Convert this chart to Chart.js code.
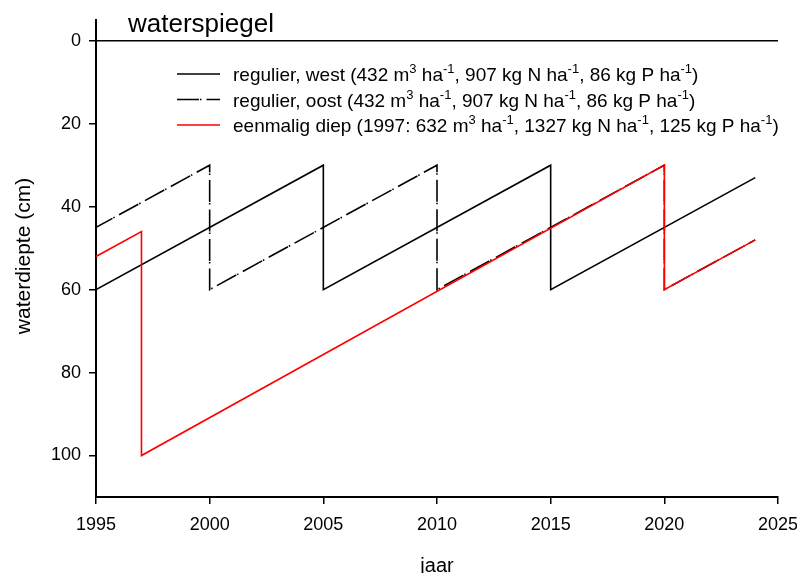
<!DOCTYPE html>
<html>
<head>
<style>
  body { margin: 0; background: #fff; }
</style>
</head>
<body>
<script src="https://cdn.jsdelivr.net/npm/chart.js"></script>
<canvas id="myChart" width="797" height="573"></canvas>

<script>
// data (jaar, waterdiepte in cm)
const westX = [1995, 1995, 2005, 2005, 2015, 2015, 2024];
const westY = [30, 60, 30, 60, 30, 60, 33];

const oostX = [1995, 1995, 2000, 2000, 2010, 2010, 2020, 2020, 2024];
const oostY = [30, 45, 30, 60, 30, 60, 30, 60, 48];

const diepX = [1995, 1997, 1997, 2020, 2020, 2024];
const diepY = [52, 46, 100, 30, 60, 48];

const nulX = [1995, 2025];
const nulY = [0, 0];

const yTicks = [0, 20, 40, 60, 80, 100];

const labels = [
  'regulier, west (432 m^3 ha^-1, 907 kg N ha^-1, 86 kg P ha^-1)',
  'regulier, oost (432 m^3 ha^-1, 907 kg N ha^-1, 86 kg P ha^-1)',
  'eenmalig diep (1997: 632 m^3 ha^-1, 1327 kg N ha^-1, 125 kg P ha^-1)'
];

const FONT = 'Arial, "Liberation Sans", sans-serif';
const dashOost = [22, 1, 1.5, 5];

function pts(xs, ys) {
  return xs.map((x, i) => ({x: x, y: ys[i]}));
}

const data = {
  datasets: [{
    label: labels[2],
    data: pts(diepX, diepY),
    borderColor: '#ff0000',
    borderWidth: 1.6,
    order: 0
  }, {
    label: labels[0],
    data: pts(westX, westY),
    borderColor: '#000',
    borderWidth: 1.6,
    order: 1
  }, {
    label: labels[1],
    data: pts(oostX, oostY),
    borderColor: '#000',
    borderWidth: 1.6,
    borderDash: dashOost,
    order: 2
  }, {
    label: 'nul',
    data: pts(nulX, nulY),
    borderColor: '#000',
    borderWidth: 1.6,
    order: 3
  }]
};

// one row of legend text, with ^ marking superscripts
function drawRich(ctx, text, x, y) {
  const parts = text.split(/\^([-\d]+)/);
  for (let i = 0; i < parts.length; i++) {
    if (i % 2 === 0) {
      ctx.font = '19px ' + FONT;
      ctx.fillText(parts[i], x, y);
    } else {
      ctx.font = '13px ' + FONT;
      ctx.fillText(parts[i], x, y - 8);
    }
    x += ctx.measureText(parts[i]).width;
  }
}

const textPlugin = {
  id: 'texts',
  afterDraw(chart) {
    const ctx = chart.ctx;
    ctx.save();
    ctx.fillStyle = '#000';
    ctx.textBaseline = 'alphabetic';
    ctx.textAlign = 'left';

    // title
    ctx.font = '26px ' + FONT;
    ctx.fillText('waterspiegel', 128, 32);

    // axis titles
    ctx.font = '20px ' + FONT;
    ctx.textAlign = 'center';
    ctx.fillText('jaar', 437, 572);
    ctx.font = '21px ' + FONT;
    ctx.translate(30, 256);
    ctx.rotate(-Math.PI / 2);
    ctx.fillText('waterdiepte (cm)', 0, 0);
    ctx.setTransform(1, 0, 0, 1, 0, 0);

    // legend
    ctx.textAlign = 'left';
    const rows = [
      {label: labels[0], color: '#000', dash: []},
      {label: labels[1], color: '#000', dash: dashOost},
      {label: labels[2], color: '#ff0000', dash: []}
    ];
    rows.forEach((r, i) => {
      const y = 74 + i * 25.5;
      ctx.strokeStyle = r.color;
      ctx.lineWidth = 1.6;
      ctx.setLineDash(r.dash);
      ctx.beginPath();
      ctx.moveTo(177, y);
      ctx.lineTo(220, y);
      ctx.stroke();
      ctx.setLineDash([]);
      drawRich(ctx, r.label, 233, y + 7);
    });
    ctx.restore();
  }
};

const config = {
  type: 'line',
  data: data,
  plugins: [textPlugin],
  options: {
    responsive: false,
    animation: false,
    events: [],
    layout: {
      padding: {top: 20, right: 19, left: 0, bottom: 0}
    },
    elements: {
      point: {radius: 0},
      line: {tension: 0, fill: false}
    },
    plugins: {
      legend: {display: false},
      tooltip: {enabled: false}
    },
    scales: {
      x: {
        type: 'linear',
        min: 1995,
        max: 2025,
        afterFit: function(scale) {
          scale.height = 76;
          scale.paddingRight = 0;
          scale.paddingLeft = 0;
        },
        ticks: {
          stepSize: 5,
          color: '#000',
          font: {family: FONT, size: 18},
          padding: 10,
          maxRotation: 0,
          callback: v => String(v)
        },
        grid: {drawOnChartArea: false, color: '#000', lineWidth: 1.5, tickLength: 7},
        border: {color: '#000', width: 2}
      },
      y: {
        type: 'linear',
        reverse: true,
        min: -5,
        max: 110,
        afterFit: function(scale) { scale.width = 96; },
        afterBuildTicks: function(axis) { axis.ticks = yTicks.map(v => ({value: v})); },
        ticks: {
          color: '#000',
          font: {family: FONT, size: 18},
          padding: 8
        },
        grid: {drawOnChartArea: false, color: '#000', lineWidth: 1.5, tickLength: 7},
        border: {color: '#000', width: 2}
      }
    }
  }
};

const myChart = new Chart(document.getElementById('myChart'), config);
</script>
</body>
</html>
